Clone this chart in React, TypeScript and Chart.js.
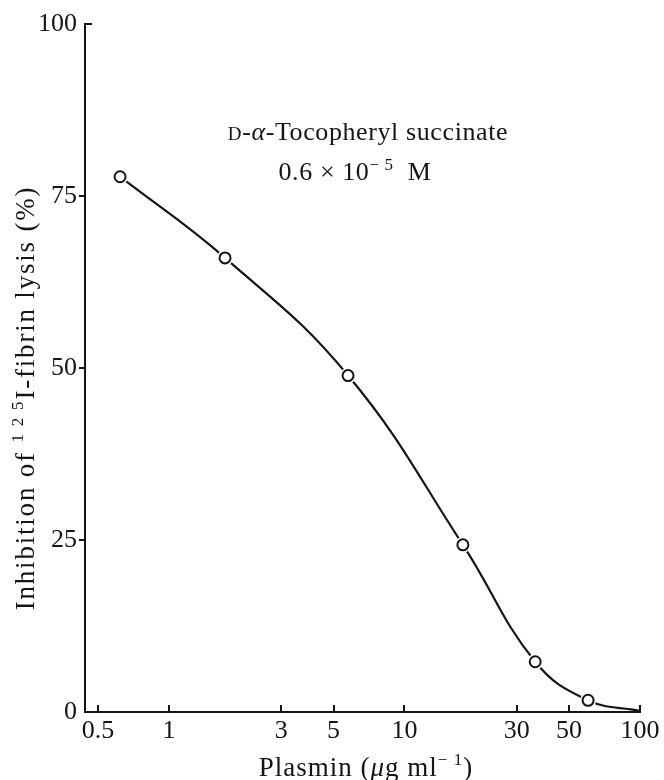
import React, { useEffect, useRef } from "react";
import { Chart, registerables } from "chart.js";

Chart.register(...registerables);

// ---- data ----
const plasmin = [0.62, 1.73, 5.76, 17.7, 35.9, 60.2];
const inhibition = [77.8, 66.0, 48.9, 24.3, 7.3, 1.7];
const curveTailX = [100];
const curveTailY = [0.15];
const xTicks = [0.5, 1, 3, 5, 10, 30, 50, 100];
const yTicks = [0, 25, 50, 75, 100];

const FAMILY = '"Liberation Serif", "Times New Roman", serif';
const INK = "#151515";

type Seg = { t: string; size: number; italic?: boolean; dy?: number };

function drawRich(ctx: CanvasRenderingContext2D, segs: Seg[], cx: number, baseY: number, ls = 0) {
  const c: any = ctx;
  c.letterSpacing = `${ls}px`;
  let total = 0;
  const widths: number[] = [];
  for (const s of segs) {
    ctx.font = `${s.italic ? "italic " : ""}${s.size}px ${FAMILY}`;
    const w = ctx.measureText(s.t).width;
    widths.push(w);
    total += w;
  }
  let x = cx - total / 2;
  ctx.textAlign = "left";
  ctx.textBaseline = "alphabetic";
  segs.forEach((s, i) => {
    ctx.font = `${s.italic ? "italic " : ""}${s.size}px ${FAMILY}`;
    ctx.fillText(s.t, x, baseY + (s.dy || 0));
    x += widths[i];
  });
  c.letterSpacing = "0px";
}

const decorPlugin = {
  id: "decor",
  afterDraw(chart: any) {
    const ctx: CanvasRenderingContext2D = chart.ctx;
    const xs = chart.scales.x;
    const ys = chart.scales.y;
    const area = chart.chartArea;
    ctx.save();
    ctx.strokeStyle = INK;
    ctx.fillStyle = INK;
    ctx.lineWidth = 2;
    // x ticks (inward)
    for (const v of xTicks) {
      const px = Math.round(xs.getPixelForValue(v));
      ctx.beginPath();
      ctx.moveTo(px, area.bottom);
      ctx.lineTo(px, area.bottom - 7);
      ctx.stroke();
    }
    // y ticks
    for (const v of yTicks) {
      const py = Math.round(ys.getPixelForValue(v));
      ctx.beginPath();
      if (v === 100) {
        ctx.moveTo(area.left, py);
        ctx.lineTo(area.left + 7, py);
      } else if (v !== 0) {
        ctx.moveTo(area.left - 6, py);
        ctx.lineTo(area.left, py);
      }
      ctx.stroke();
    }
    // annotation
    drawRich(ctx, [
      { t: "D", size: 19 },
      { t: "-", size: 26 },
      { t: "α", size: 26, italic: true },
      { t: "-Tocopheryl succinate", size: 26 },
    ], 368, 140, 0.6);
    drawRich(ctx, [
      { t: "0.6 × 10", size: 26 },
      { t: "− 5", size: 17, dy: -10 },
      { t: "  M", size: 26 },
    ], 355, 180, 0.6);
    // x title
    drawRich(ctx, [
      { t: "Plasmin (", size: 27 },
      { t: "μ", size: 27, italic: true },
      { t: "g ml", size: 27 },
      { t: "− 1", size: 17, dy: -11 },
      { t: ")", size: 27 },
    ], 366, 776, 1);
    // y title (rotated)
    ctx.translate(25, 398);
    ctx.rotate(-Math.PI / 2);
    drawRich(ctx, [
      { t: "Inhibition of ", size: 27 },
      { t: "1 2 5", size: 17, dy: -11 },
      { t: "I-fibrin lysis (%)", size: 27 },
    ], 0, 9, 1.8);
    ctx.restore();
  },
};

export default function App() {
  const ref = useRef<HTMLCanvasElement | null>(null);
  useEffect(() => {
    if (!ref.current) return;
    const points = plasmin.map((x, i) => ({ x, y: inhibition[i] }));
    const curve = [...points, ...curveTailX.map((x, i) => ({ x, y: curveTailY[i] }))];
    const chart = new Chart(ref.current, {
      type: "scatter",
      data: {
        datasets: [
          {
            label: "markers",
            data: points,
            pointRadius: 5.5,
            pointBorderWidth: 2,
            pointBorderColor: INK,
            pointBackgroundColor: "#ffffff",
            showLine: false,
            clip: false,
          } as any,
          {
            label: "halo",
            data: points,
            pointRadius: 8,
            pointBorderWidth: 0,
            pointBackgroundColor: "#ffffff",
            pointBorderColor: "#ffffff",
            showLine: false,
            clip: false,
          } as any,
          {
            label: "curve",
            data: curve,
            showLine: true,
            pointRadius: 0,
            borderColor: INK,
            borderWidth: 2.2,
            tension: 0.42,
            fill: false,
          } as any,
        ],
      },
      options: {
        animation: false,
        responsive: false,
        maintainAspectRatio: false,
        layout: { padding: { left: 0, top: 24, right: 24, bottom: 0 } },
        plugins: { legend: { display: false }, tooltip: { enabled: false } },
        scales: {
          x: {
            type: "logarithmic",
            min: 0.44,
            max: 100,
            afterBuildTicks: (s: any) => {
              s.ticks = xTicks.map((v) => ({ value: v }));
            },
            afterFit: (s: any) => {
              s.height = 68;
            },
            grid: { display: false, drawTicks: false },
            border: { display: true, color: INK, width: 2 },
            ticks: {
              color: INK,
              padding: 4,
              maxRotation: 0,
              autoSkip: false,
              font: { family: FAMILY, size: 26 },
              callback: (v: any) => String(v),
            },
          },
          y: {
            type: "linear",
            min: 0,
            max: 100,
            afterBuildTicks: (s: any) => {
              s.ticks = yTicks.map((v) => ({ value: v }));
            },
            afterFit: (s: any) => {
              s.width = 85;
            },
            grid: { display: false, drawTicks: false },
            border: { display: true, color: INK, width: 2 },
            ticks: {
              color: INK,
              padding: 8,
              autoSkip: false,
              font: { family: FAMILY, size: 26 },
              callback: (v: any) => String(v),
            },
          },
        },
      },
      plugins: [decorPlugin],
    } as any);
    return () => chart.destroy();
  }, []);
  return (
    <div style={{ position: "fixed", left: 0, top: 0, width: 664, height: 780, background: "#fff" }}>
      <canvas ref={ref} width={664} height={780} style={{ display: "block" }} />
    </div>
  );
}
